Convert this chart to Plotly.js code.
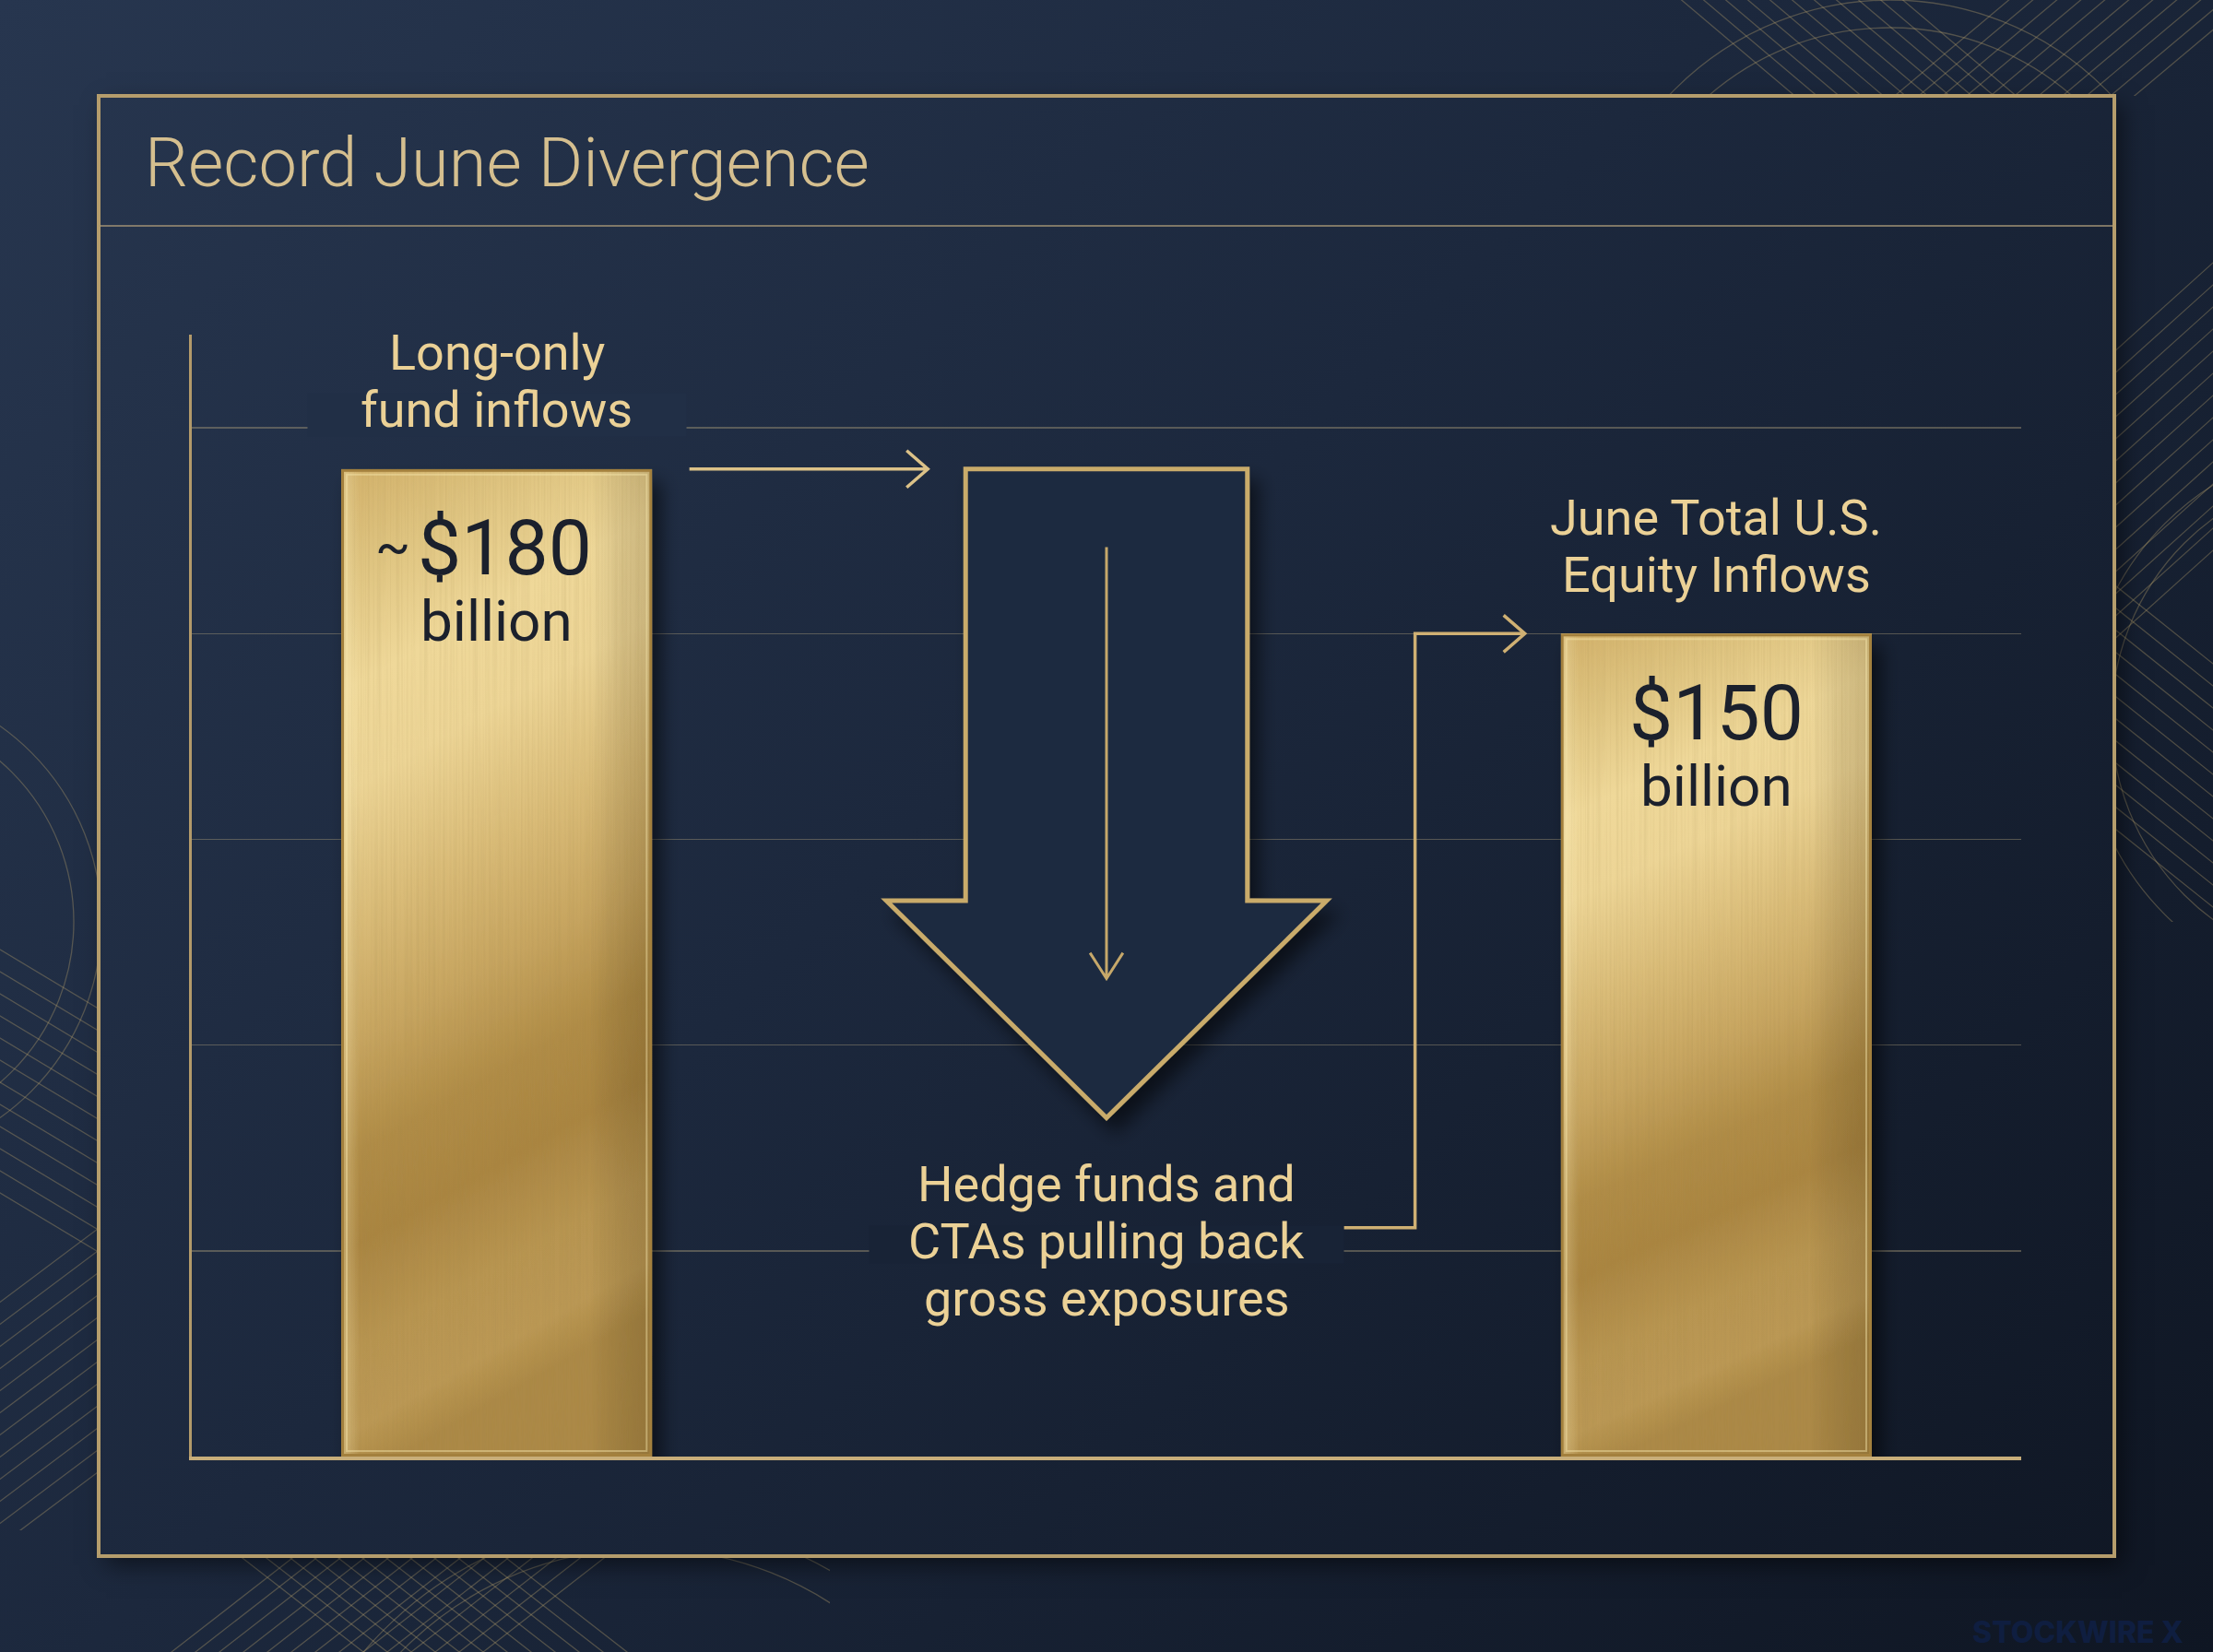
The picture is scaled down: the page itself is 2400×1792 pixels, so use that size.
<!DOCTYPE html>
<html>
<head>
<meta charset="utf-8">
<script src="https://cdn.plot.ly/plotly-3.0.1.min.js"></script>
<style>
  html, body { margin:0; padding:0; width:2400px; height:1792px; overflow:hidden; }
  #bg { position:absolute; left:0; top:0; width:2400px; height:1792px;
        background: linear-gradient(135deg, #27364f 0%, #1c283d 45%, #0f1623 100%); }
  #deco { position:absolute; left:0; top:0; width:2400px; height:1792px; }
  #frameShadow { position:absolute; left:107px; top:104px; width:2186px; height:1584px;
        box-shadow: 8px 10px 24px rgba(0,0,0,0.5); }
  #chart { position:absolute; left:0; top:0; width:2400px; height:1792px; }
</style>
</head>
<body>
<div id="bg"></div>
<div id="deco"></div>
<div id="frameShadow"></div>
<div id="chart"></div>
<svg width="0" height="0" style="position:absolute">
  <defs>
    <filter id="dshadow" x="-30%" y="-10%" width="160%" height="130%">
      <feGaussianBlur in="SourceAlpha" stdDeviation="10"/>
      <feOffset dx="10" dy="14" result="o"/>
      <feComponentTransfer><feFuncA type="linear" slope="0.55"/></feComponentTransfer>
      <feMerge><feMergeNode/><feMergeNode in="SourceGraphic"/></feMerge>
    </filter>
  </defs>
</svg>
<script>
// ---------------- DATA ----------------
const categories = ['Long-only fund inflows', 'Hedge funds and CTAs pulling back gross exposures', 'June Total U.S. Equity Inflows'];
const categoryLabelLines = [['Long-only', 'fund inflows'], ['Hedge funds and', 'CTAs pulling back', 'gross exposures'], ['June Total U.S.', 'Equity Inflows']];
const barCategories = ['Long-only fund inflows', 'June Total U.S. Equity Inflows'];
const barValues = [180, 150];            // $ billion
const barValueLabels = ['$180', '$150'];
const barApprox = [true, false];
const unitLabel = 'billion';
const chartTitle = 'Record June Divergence';
const watermark = 'STOCKWIRE X';
const gridStep = 37.5;
const yMax = 204.5;

// ---------------- LAYOUT CONSTANTS ----------------
const W = 2400, H = 1792;
const M = {l:208, r:208, t:363, b:212};
const PW = W - M.l - M.r, PH = H - M.t - M.b;
const xr = [-0.5, categories.length - 0.5];
const yr = [0, yMax];
const pxX = PW / (xr[1] - xr[0]);
const pxY = PH / (yr[1] - yr[0]);
const barWidth = 0.51;
const paperX = px => (px - M.l) / PW;
const paperY = py => (H - M.b - py) / PH;

const GOLD_TEXT = '#ebd196';
const DARK_TEXT = '#1b202c';
const FONT = 'Roboto, "Open Sans", sans-serif';

// background colour at a pixel (same as CSS gradient)
const BG_STOPS = [[0,'#27364f'],[0.45,'#1c283d'],[1,'#0f1623']];
function hex2rgb(h){ return [1,3,5].map(i => parseInt(h.substr(i,2),16)); }
function bgAt(x, y){
  const s = Math.SQRT1_2, len = (W + H) * s;
  let t = ((x - W/2) * s + (y - H/2) * s) / len + 0.5;
  t = Math.max(0, Math.min(1, t));
  for (let i = 1; i < BG_STOPS.length; i++) {
    if (t <= BG_STOPS[i][0]) {
      const a = BG_STOPS[i-1], b = BG_STOPS[i];
      const f = (t - a[0]) / (b[0] - a[0]);
      const A = hex2rgb(a[1]), B = hex2rgb(b[1]);
      return 'rgb(' + A.map((v,k) => Math.round(v + (B[k]-v)*f)).join(',') + ')';
    }
  }
  return BG_STOPS[BG_STOPS.length-1][1];
}

// ---------------- DECORATIVE BACKGROUND ----------------
(function(){
  const st = 'stroke="#b8a06c" stroke-opacity="0.36" stroke-width="1.3" fill="none"';
  const bundle = (x1,y1,x2,y2,n,ox,oy) => { let s=''; for(let i=0;i<n;i++){ s += `<line x1="${x1+i*ox}" y1="${y1+i*oy}" x2="${x2+i*ox}" y2="${y2+i*oy}"/>`; } return s; };
  const arcs = (cx,cy,rs) => rs.map(r => `<circle cx="${cx}" cy="${cy}" r="${r}"/>`).join('');
  let s = `<svg xmlns="http://www.w3.org/2000/svg" width="${W}" height="${H}">
  <defs>
   <clipPath id="out"><path clip-rule="evenodd" d="M0 0H${W}V${H}H0Z M107 104H2293V1688H107Z"/></clipPath>
   <clipPath id="rTop"><rect x="1800" y="0" width="600" height="104"/></clipPath>
   <clipPath id="rRight"><rect x="2293" y="100" width="107" height="900"/></clipPath>
   <clipPath id="rLeft"><rect x="0" y="760" width="107" height="900"/></clipPath>
   <clipPath id="rBot"><rect x="0" y="1688" width="900" height="104"/></clipPath>
  </defs>
  <g clip-path="url(#out)" ${st}>
   <g clip-path="url(#rTop)">${bundle(1800,-20,2060,200,11,24,0)}${bundle(2000,150,2250,-60,11,26,0)}${arcs(2050,330,[330,300])}</g>
   <g clip-path="url(#rRight)">${bundle(2250,420,2450,240,14,0,24)}${bundle(2250,600,2450,760,12,0,24)}${arcs(2560,780,[300,270])}</g>
   <g clip-path="url(#rLeft)">${bundle(-50,1000,150,1120,12,0,24)}${bundle(-50,1450,150,1300,12,0,24)}${arcs(-150,1000,[260,230])}</g>
   <g clip-path="url(#rBot)">${bundle(150,1820,330,1680,14,26,0)}${bundle(250,1680,430,1820,12,26,0)}${arcs(700,2050,[400,370])}</g>
  </g></svg>`;
  document.getElementById('deco').innerHTML = s;
})();

// ---------------- BAR FACE IMAGE ----------------
function barFace(wpx, hpx){
  const w = wpx.toFixed(1), h = hpx.toFixed(1);
  const svg = `<svg xmlns="http://www.w3.org/2000/svg" width="${w}" height="${h}" viewBox="0 0 ${w} ${h}" preserveAspectRatio="none">
  <defs>
   <linearGradient id="v" x1="0" y1="0" x2="0.18" y2="1">
    <stop offset="0" stop-color="#d2b16a"/>
    <stop offset="0.1" stop-color="#dec37f"/>
    <stop offset="0.22" stop-color="#efd899"/>
    <stop offset="0.32" stop-color="#edd596"/>
    <stop offset="0.45" stop-color="#dabc78"/>
    <stop offset="0.57" stop-color="#c7a560"/>
    <stop offset="0.68" stop-color="#b08c46"/>
    <stop offset="0.77" stop-color="#aa8541"/>
    <stop offset="0.87" stop-color="#b89551"/>
    <stop offset="0.95" stop-color="#bb9854"/>
    <stop offset="1" stop-color="#ac8946"/>
   </linearGradient>
   <linearGradient id="hz" x1="0" y1="0" x2="1" y2="0">
    <stop offset="0" stop-color="#fff3c4" stop-opacity="0.35"/>
    <stop offset="0.06" stop-color="#fff3c4" stop-opacity="0"/>
    <stop offset="0.8" stop-color="#000" stop-opacity="0"/>
    <stop offset="1" stop-color="#3a2806" stop-opacity="0.2"/>
   </linearGradient>
   <filter id="n" x="0" y="0" width="1" height="1">
    <feTurbulence type="fractalNoise" baseFrequency="0.45 0.003" numOctaves="2" seed="7"/>
    <feColorMatrix type="matrix" values="0 0 0 0 0.35  0 0 0 0 0.25  0 0 0 0 0.08  0 0 0 1.4 -0.55"/>
   </filter>
  </defs>
  <rect width="${w}" height="${h}" fill="url(#v)"/>
  <rect width="${w}" height="${h}" fill="url(#hz)"/>
  <rect width="${w}" height="${h}" filter="url(#n)" opacity="0.2"/>
  <rect x="1.5" y="1.5" width="${(wpx-3).toFixed(1)}" height="${(hpx-3).toFixed(1)}" fill="none" stroke="#a3803e" stroke-width="3"/>
  <rect x="6" y="6" width="${(wpx-12).toFixed(1)}" height="${(hpx-12).toFixed(1)}" fill="none" stroke="#f7e6ae" stroke-opacity="0.45" stroke-width="2"/>
  </svg>`;
  return 'data:image/svg+xml;charset=utf-8,' + encodeURIComponent(svg);
}

// ---------------- TRACES ----------------
const barX = barCategories.map(c => categories.indexOf(c));
const traces = [{
  type: 'bar', x: barX, y: barValues, width: barWidth,
  marker: {color: '#c7a661', line: {width: 0}},
  hoverinfo: 'skip', showlegend: false
}];

const images = barValues.map((v, i) => ({
  source: barFace(barWidth * pxX, v * pxY),
  xref: 'x', yref: 'y', x: barX[i] - barWidth/2, y: v,
  sizex: barWidth, sizey: v, xanchor: 'left', yanchor: 'top',
  sizing: 'stretch', layer: 'above'
}));

// ---------------- SHAPES ----------------
const midX = categories.indexOf('Hedge funds and CTAs pulling back gross exposures');
const ARROW = {shaftHalf: 0.231, headHalf: 0.361, shoulderFrac: 0.563, tipFrac: 0.343,
               innerTop: 0.921, innerBottom: 0.484, innerHeadW: 0.027, innerHeadH: 4.7};
const aTop = barValues[0];
const aShoulder = aTop * ARROW.shoulderFrac, aTip = aTop * ARROW.tipFrac;
const arrowPath = `M${midX-ARROW.shaftHalf},${aTop} L${midX+ARROW.shaftHalf},${aTop} L${midX+ARROW.shaftHalf},${aShoulder} L${midX+ARROW.headHalf},${aShoulder} L${midX},${aTip} L${midX-ARROW.headHalf},${aShoulder} L${midX-ARROW.shaftHalf},${aShoulder} Z`;
const iTop = aTop * ARROW.innerTop, iBot = aTop * ARROW.innerBottom;
const innerPath = `M${midX},${iTop} L${midX},${iBot} M${midX-ARROW.innerHeadW},${iBot+ARROW.innerHeadH} L${midX},${iBot} L${midX+ARROW.innerHeadW},${iBot+ARROW.innerHeadH}`;

const headBack = 23 / pxX, headHalfH = 20 / pxY;
const c1 = {x0: barX[0] + 0.316, x1: midX - 0.293, y: barValues[0]};
const conn1 = `M${c1.x0},${c1.y} L${c1.x1},${c1.y} M${c1.x1-headBack},${c1.y+headHalfH} L${c1.x1},${c1.y} L${c1.x1-headBack},${c1.y-headHalfH}`;
const c2 = {x0: midX + 0.389, xv: midX + 0.506, x1: barX[1] - 0.314, y0: 41.7, y1: barValues[1]};
const conn2 = `M${c2.x0},${c2.y0} L${c2.xv},${c2.y0} L${c2.xv},${c2.y1} L${c2.x1},${c2.y1} M${c2.x1-headBack},${c2.y1+headHalfH} L${c2.x1},${c2.y1} L${c2.x1-headBack},${c2.y1-headHalfH}`;

const shapes = [
  {type:'rect', xref:'paper', yref:'paper', x0:paperX(107), x1:paperX(2293), y0:paperY(1688), y1:paperY(104),
   line:{color:'#b59d6c', width:4}, fillcolor:'rgba(0,0,0,0)', layer:'below'},
  {type:'line', xref:'paper', yref:'paper', x0:paperX(109), x1:paperX(2291), y0:paperY(245), y1:paperY(245),
   line:{color:'rgba(160,146,116,0.75)', width:2}, layer:'below'},
  {type:'path', xref:'x', yref:'y', path: arrowPath, fillcolor:'#1e2a40', line:{color:'#c9ab6b', width:5}, layer:'above'},
  {type:'path', xref:'x', yref:'y', path: innerPath, line:{color:'#c6a86a', width:3}, layer:'above'},
  {type:'path', xref:'x', yref:'y', path: conn1, line:{color:'#dcc288', width:3.5}, layer:'above'},
  {type:'path', xref:'x', yref:'y', path: conn2, line:{color:'#cfb073', width:3.5}, layer:'above'}
];

// ---------------- ANNOTATIONS ----------------
const annotations = [];
function gapBox(xData, yData, yshift, widthPx, heightPx){
  const cxp = M.l + (xData - xr[0]) * pxX;
  const cyp = H - M.b - (yData - yr[0]) * pxY - yshift;
  annotations.push({xref:'x', yref:'y', x:xData, y:yData, yshift:yshift, text:' ', showarrow:false,
    width:widthPx, height:heightPx, bgcolor:bgAt(cxp, cyp), borderpad:0, xanchor:'center', yanchor:'middle'});
}
gapBox(barX[0], barValues[0], 59, 410, 46);
gapBox(midX, aTip, -137, 514, 40);

function label(x, y, yshift, text, size, color, xshift){
  annotations.push({xref:'x', yref:'y', x:x, y:y, yshift:yshift, xshift:xshift||0, text:text, showarrow:false,
    xanchor:'center', yanchor:'middle', font:{family:FONT, size:size, color:color, weight:400}});
}
barX.forEach((bx, i) => {
  const lines = categoryLabelLines[bx];
  label(bx, barValues[i], 126, lines[0], 54, GOLD_TEXT);
  label(bx, barValues[i], 64, lines[1], 54, GOLD_TEXT);
  label(bx, barValues[i], -86, barValueLabels[i], 84, DARK_TEXT, barApprox[i] ? 9 : 0);
  if (barApprox[i]) label(bx, barValues[i], -84, '~', 56, DARK_TEXT, -113);
  label(bx, barValues[i], -165, unitLabel, 62, DARK_TEXT);
});
categoryLabelLines[midX].forEach((ln, k) => label(midX, aTip, -72 - 62*k, ln, 54, GOLD_TEXT));

annotations.push({xref:'paper', yref:'paper', x:paperX(2370), y:paperY(1770), xanchor:'right', yanchor:'middle',
  text: watermark, showarrow:false, font:{family:'Inter, Roboto, sans-serif', size:32, color:'#0f1e40', weight:800}});

// ---------------- LAYOUT ----------------
const layout = {
  width: W, height: H,
  margin: M,
  paper_bgcolor: 'rgba(0,0,0,0)', plot_bgcolor: 'rgba(0,0,0,0)',
  showlegend: false,
  title: {text: chartTitle, xref:'container', yref:'container', x: 157/W, xanchor:'left',
          y: 1 - 176/H, yanchor:'middle',
          font: {family: FONT, size: 74, color:'#d5bf8f', weight:300}},
  xaxis: {range: xr, showgrid:false, zeroline:false, showticklabels:false, ticks:'',
          showline:true, linecolor:'#c8ae7a', linewidth:3.5, fixedrange:true},
  yaxis: {range: yr, tickvals: Array.from({length: Math.floor(yMax/gridStep)}, (_, i) => (i+1)*gridStep),
          showgrid:true, gridcolor:'rgba(175,160,125,0.42)', gridwidth:1.5,
          zeroline:false, showticklabels:false, ticks:'',
          showline:true, linecolor:'#b39a6a', linewidth:3, fixedrange:true},
  bargap: 0,
  shapes: shapes,
  images: images,
  annotations: annotations
};

Plotly.newPlot('chart', traces, layout, {staticPlot:true, displayModeBar:false}).then(() => {
  document.querySelectorAll('.imagelayer image').forEach(e => e.setAttribute('filter', 'url(#dshadow)'));
  const ap = document.querySelector('.shapelayer path[data-index="2"]');
  if (ap) ap.setAttribute('filter', 'url(#dshadow)');
});
</script>
</body>
</html>
